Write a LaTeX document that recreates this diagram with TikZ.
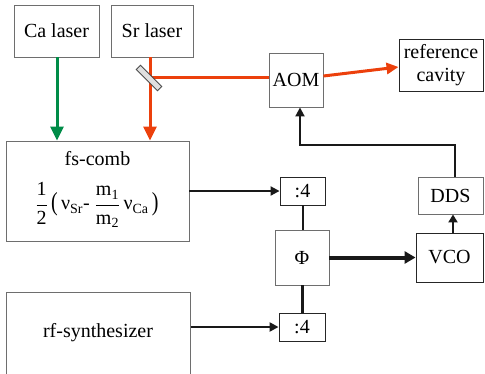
\documentclass[tikz,border=0pt]{standalone}
\usepackage{fontspec}
\setmainfont{Liberation Serif}
\newfontfamily\tnr{Liberation Serif}
\usetikzlibrary{arrows.meta}
\definecolor{laserred}{RGB}{236,64,12}
\definecolor{lasergreen}{RGB}{0,140,72}
\definecolor{boxgray}{RGB}{110,110,110}
\tikzset{
  box/.style={draw=boxgray, line width=0.9pt, fill=white, inner sep=0pt, font=\tnr\fontsize{20}{22}\selectfont},
  dbox/.style={box, draw=black!85},
  redbeam/.style={draw=laserred, line width=3pt},
  greenbeam/.style={draw=lasergreen, line width=3pt},
  bigtip/.style={-{Triangle[length=14pt,width=13pt]}},
  blk/.style={draw=black!90, line width=2pt},
  blktip/.style={-{Triangle[length=9pt,width=9pt]}},
  lbl/.style={inner sep=0pt, font=\tnr\fontsize{20}{22}\selectfont}
}
\newcommand{\tall}[1]{\raisebox{-1pt}{\scalebox{1}[1.3]{#1}}}
\begin{document}
\begin{tikzpicture}[x=1pt,y=-1pt]
\useasboundingbox (0,0) rectangle (485,373);
% boxes
\node[box, minimum width=85, minimum height=52] (ca) at (56.5,31) {Ca laser};
\node[box, minimum width=82, minimum height=52] (sr) at (152,31) {Sr laser};
\node[box, minimum width=54, minimum height=54] (aom) at (296,80) {AOM};
\node[dbox, minimum width=84, minimum height=52, align=center, font=\tnr\fontsize{20}{20}\selectfont] (cav) at (441,65) {reference\\[3pt]cavity};
\node[box, minimum width=183, minimum height=100] (fs) at (97.5,191) {};
\node[lbl] (fstxt) at (97.5,159) {fs-comb};
\node[lbl] (formula) at (97,205) {\(\displaystyle\frac{\mbox{1}}{\mbox{2}}\)\,\tall{(}\,ν\textsubscript{Sr}- \(\displaystyle\frac{\mbox{m\textsubscript{1}}}{\mbox{m\textsubscript{2}}}\)\,ν\textsubscript{Ca}\,\tall{)}};
\node[dbox, minimum width=45, minimum height=28] (div1) at (302.5,191) {:4};
\node[box, minimum width=54, minimum height=55] (phi) at (302,257.5) {Φ};
\node[dbox, minimum width=46, minimum height=28] (div2) at (302,327) {:4};
\node[dbox, minimum width=67, minimum height=49] (vco) at (449.5,257.5) {VCO};
\node[box, minimum width=65, minimum height=37] (dds) at (450.5,195.5) {DDS};
\node[box, minimum width=184, minimum height=110, anchor=north west] (rf) at (6,292) {};
\node[lbl] (rftxt) at (98,333) {rf-synthesizer};
\coordinate (m) at (150,77);
\coordinate (fb) at (300,145);
% laser beams
\draw[greenbeam, bigtip] ([xshift=0.5pt]ca.south) -- ([xshift=0.5pt]ca.south |- fs.north);
\draw[redbeam, bigtip] ([xshift=-2pt]sr.south) -- ([xshift=-2pt]sr.south |- fs.north);
\draw[redbeam] (m) -- (m -| aom.west);
\draw[redbeam, -{Triangle[length=12pt,width=11pt]}] ([yshift=4pt]aom.east) -- ([yshift=-2pt]cav.west);
\node[draw=black!70, fill=black!12, line width=0.8pt, minimum width=30, minimum height=6, inner sep=0pt, rotate=-45] (mirror) at (149,78) {};
% electronics
\draw[blk, blktip] ([xshift=4.5pt]dds.north) |- (fb) -- (fb |- aom.south);
\draw[blk, blktip] (fs.east |- div1) -- (div1.west);
\draw[blk] (div1.south) -- (div1.south |- phi.north);
\draw[blk, line width=3pt] (div2.north) -- (div2.north |- phi.south);
\draw[blk, line width=4pt, -{Triangle[length=11pt,width=12pt]}] (phi.east) -- (vco.west);
\draw[blk, -{Triangle[length=8pt,width=9pt]}] ([xshift=3.5pt]vco.north) -- ([xshift=3.5pt]vco.north |- dds.south);
\draw[blk, line width=2.5pt, blktip] (rf.east |- div2) -- (div2.west);
\end{tikzpicture}
\end{document}
